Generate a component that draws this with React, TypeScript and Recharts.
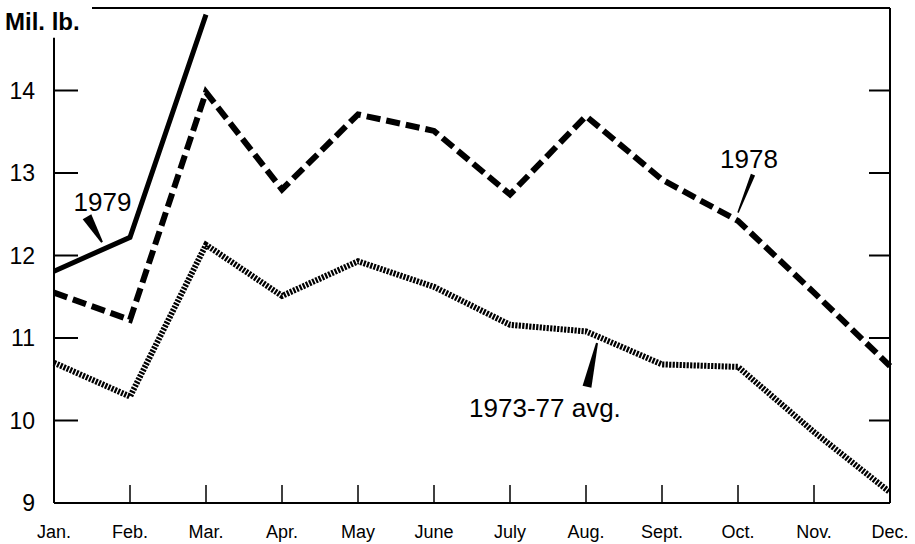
import {
    LineChart,
    Line,
    XAxis,
    YAxis,
    ReferenceLine,
    ReferenceDot,
} from 'recharts';

const MONTHS = ['Jan.', 'Feb.', 'Mar.', 'Apr.', 'May', 'June', 'July', 'Aug.', 'Sept.', 'Oct.', 'Nov.', 'Dec.'];

// million lb.
const Y1979 = [11.81, 12.22, 14.92];
const Y1978 = [11.55, 11.22, 13.98, 12.8, 13.71, 13.51, 12.74, 13.69, 12.92, 12.42, 11.55, 10.66];
const AVG_7377 = [10.7, 10.29, 12.13, 11.51, 11.93, 11.62, 11.16, 11.08, 10.68, 10.65, 9.86, 9.13];

const Y_TICKS = [9, 10, 11, 12, 13, 14];
const LEFT_TICK_MARKS = [10, 11, 12, 13, 14];
const RIGHT_TICK_MARKS = [10, 11, 12, 13, 14];
const X_TICKS = MONTHS.map((_, i) => i);

const rows = MONTHS.map((month, i) => ({
    idx: i,
    month,
    y1979: i < Y1979.length ? Y1979[i] : null,
    y1978: Y1978[i],
    avg: AVG_7377[i],
}));

const FONT = '"Liberation Sans", Arial, Helvetica, sans-serif';
const INK = '#000';
// tick lengths in month units (one month = 76px)
const LEFT_TICK_LEN = 24 / 76;
const RIGHT_TICK_LEN = 21 / 76;

// tapered pointer: wide at (x1,y1), narrow at (x2,y2)
const wedge = (wide: number, tip: number) => (p: any) => {
    const { x1, y1, x2, y2 } = p;
    const dx = x2 - x1;
    const dy = y2 - y1;
    const len = Math.sqrt(dx * dx + dy * dy) || 1;
    const nx = -dy / len;
    const ny = dx / len;
    const pts = [
        [x1 + (nx * wide) / 2, y1 + (ny * wide) / 2],
        [x2 + (nx * tip) / 2, y2 + (ny * tip) / 2],
        [x2 - (nx * tip) / 2, y2 - (ny * tip) / 2],
        [x1 - (nx * wide) / 2, y1 - (ny * wide) / 2],
    ];
    return <polygon points={pts.map((q) => q.join(',')).join(' ')} fill={INK} />;
};

const annotationLabel = (value: string) => ({
    value,
    position: 'center' as const,
    fontSize: 26,
    fill: INK,
    fontFamily: FONT,
});

export default function App() {
    return (
        <div style={{ width: 915, height: 544, fontFamily: FONT, background: '#fff' }}>
            <style>{'body{margin:0}'}</style>
            <LineChart
                width={915}
                height={544}
                data={rows}
                margin={{ top: 8, right: 24, left: 0, bottom: 0 }}
            >
                <XAxis
                    dataKey="idx"
                    type="number"
                    domain={[0, 11]}
                    ticks={X_TICKS}
                    interval={0}
                    tickFormatter={(v) => MONTHS[v]}
                    height={41}
                    tickSize={-18}
                    tickMargin={40}
                    axisLine={{ stroke: INK, strokeWidth: 2 }}
                    tickLine={{ stroke: INK, strokeWidth: 1.5 }}
                    tick={{ fill: INK, fontSize: 18, fontFamily: FONT }}
                />
                <YAxis
                    yAxisId="left"
                    type="number"
                    domain={[9, 15]}
                    ticks={Y_TICKS}
                    allowDataOverflow
                    width={54}
                    tickSize={-24}
                    tickMargin={43}
                    axisLine={false}
                    tickLine={false}
                    tick={{ fill: INK, fontSize: 23, fontFamily: FONT }}
                    label={{
                        value: 'Mil. lb.',
                        position: 'insideTopLeft',
                        offset: 5,
                        fontSize: 24,
                        fontWeight: 'bold',
                        fill: INK,
                        fontFamily: FONT,
                    }}
                />
                <YAxis
                    yAxisId="right"
                    orientation="right"
                    type="number"
                    domain={[9, 15]}
                    ticks={RIGHT_TICK_MARKS}
                    allowDataOverflow
                    width={1}
                    tick={false}
                    tickLine={false}
                    axisLine={{ stroke: INK, strokeWidth: 2 }}
                />

                {/* frame: left axis stops under the unit label, top rule starts after it */}
                <ReferenceLine
                    yAxisId="left"
                    segment={[{ x: 0, y: 9 }, { x: 0, y: 14.64 }]}
                    stroke={INK}
                    strokeWidth={2}
                    ifOverflow="visible"
                />
                <ReferenceLine
                    yAxisId="left"
                    segment={[{ x: 0.5, y: 15 }, { x: 11, y: 15 }]}
                    stroke={INK}
                    strokeWidth={2}
                    ifOverflow="visible"
                />
                {LEFT_TICK_MARKS.map((v) => (
                    <ReferenceLine
                        key={`lt-${v}`}
                        yAxisId="left"
                        segment={[{ x: 0, y: v }, { x: LEFT_TICK_LEN, y: v }]}
                        stroke={INK}
                        strokeWidth={2}
                        ifOverflow="visible"
                    />
                ))}
                {RIGHT_TICK_MARKS.map((v) => (
                    <ReferenceLine
                        key={`rt-${v}`}
                        yAxisId="left"
                        segment={[{ x: 11 - RIGHT_TICK_LEN, y: v }, { x: 11, y: v }]}
                        stroke={INK}
                        strokeWidth={2}
                        ifOverflow="visible"
                    />
                ))}

                <Line
                    yAxisId="left"
                    dataKey="avg"
                    type="linear"
                    stroke={INK}
                    strokeWidth={6}
                    strokeDasharray="2.2 1.3"
                    dot={false}
                    isAnimationActive={false}
                />
                <Line
                    yAxisId="left"
                    dataKey="y1978"
                    type="linear"
                    stroke={INK}
                    strokeWidth={6}
                    strokeDasharray="14 6"
                    dot={false}
                    isAnimationActive={false}
                />
                <Line
                    yAxisId="left"
                    dataKey="y1979"
                    type="linear"
                    stroke={INK}
                    strokeWidth={5}
                    dot={false}
                    connectNulls={false}
                    isAnimationActive={false}
                />

                {/* pointers */}
                <ReferenceLine
                    yAxisId="left"
                    segment={[{ x: 0.434, y: 12.47 }, { x: 0.632, y: 12.16 }]}
                    shape={wedge(10, 2)}
                    ifOverflow="visible"
                />
                <ReferenceLine
                    yAxisId="left"
                    segment={[{ x: 9.197, y: 12.98 }, { x: 9.0, y: 12.52 }]}
                    shape={wedge(4.5, 1.5)}
                    ifOverflow="visible"
                />
                <ReferenceLine
                    yAxisId="left"
                    segment={[{ x: 7.013, y: 10.41 }, { x: 7.145, y: 10.94 }]}
                    shape={wedge(9, 2)}
                    ifOverflow="visible"
                />

                {/* labels */}
                <ReferenceDot
                    yAxisId="left"
                    x={0.638}
                    y={12.65}
                    r={0}
                    stroke="none"
                    ifOverflow="visible"
                    label={annotationLabel('1979')}
                />
                <ReferenceDot
                    yAxisId="left"
                    x={9.145}
                    y={13.17}
                    r={0}
                    stroke="none"
                    ifOverflow="visible"
                    label={annotationLabel('1978')}
                />
                <ReferenceDot
                    yAxisId="left"
                    x={6.46}
                    y={10.15}
                    r={0}
                    stroke="none"
                    ifOverflow="visible"
                    label={annotationLabel('1973-77 avg.')}
                />
            </LineChart>
        </div>
    );
}
